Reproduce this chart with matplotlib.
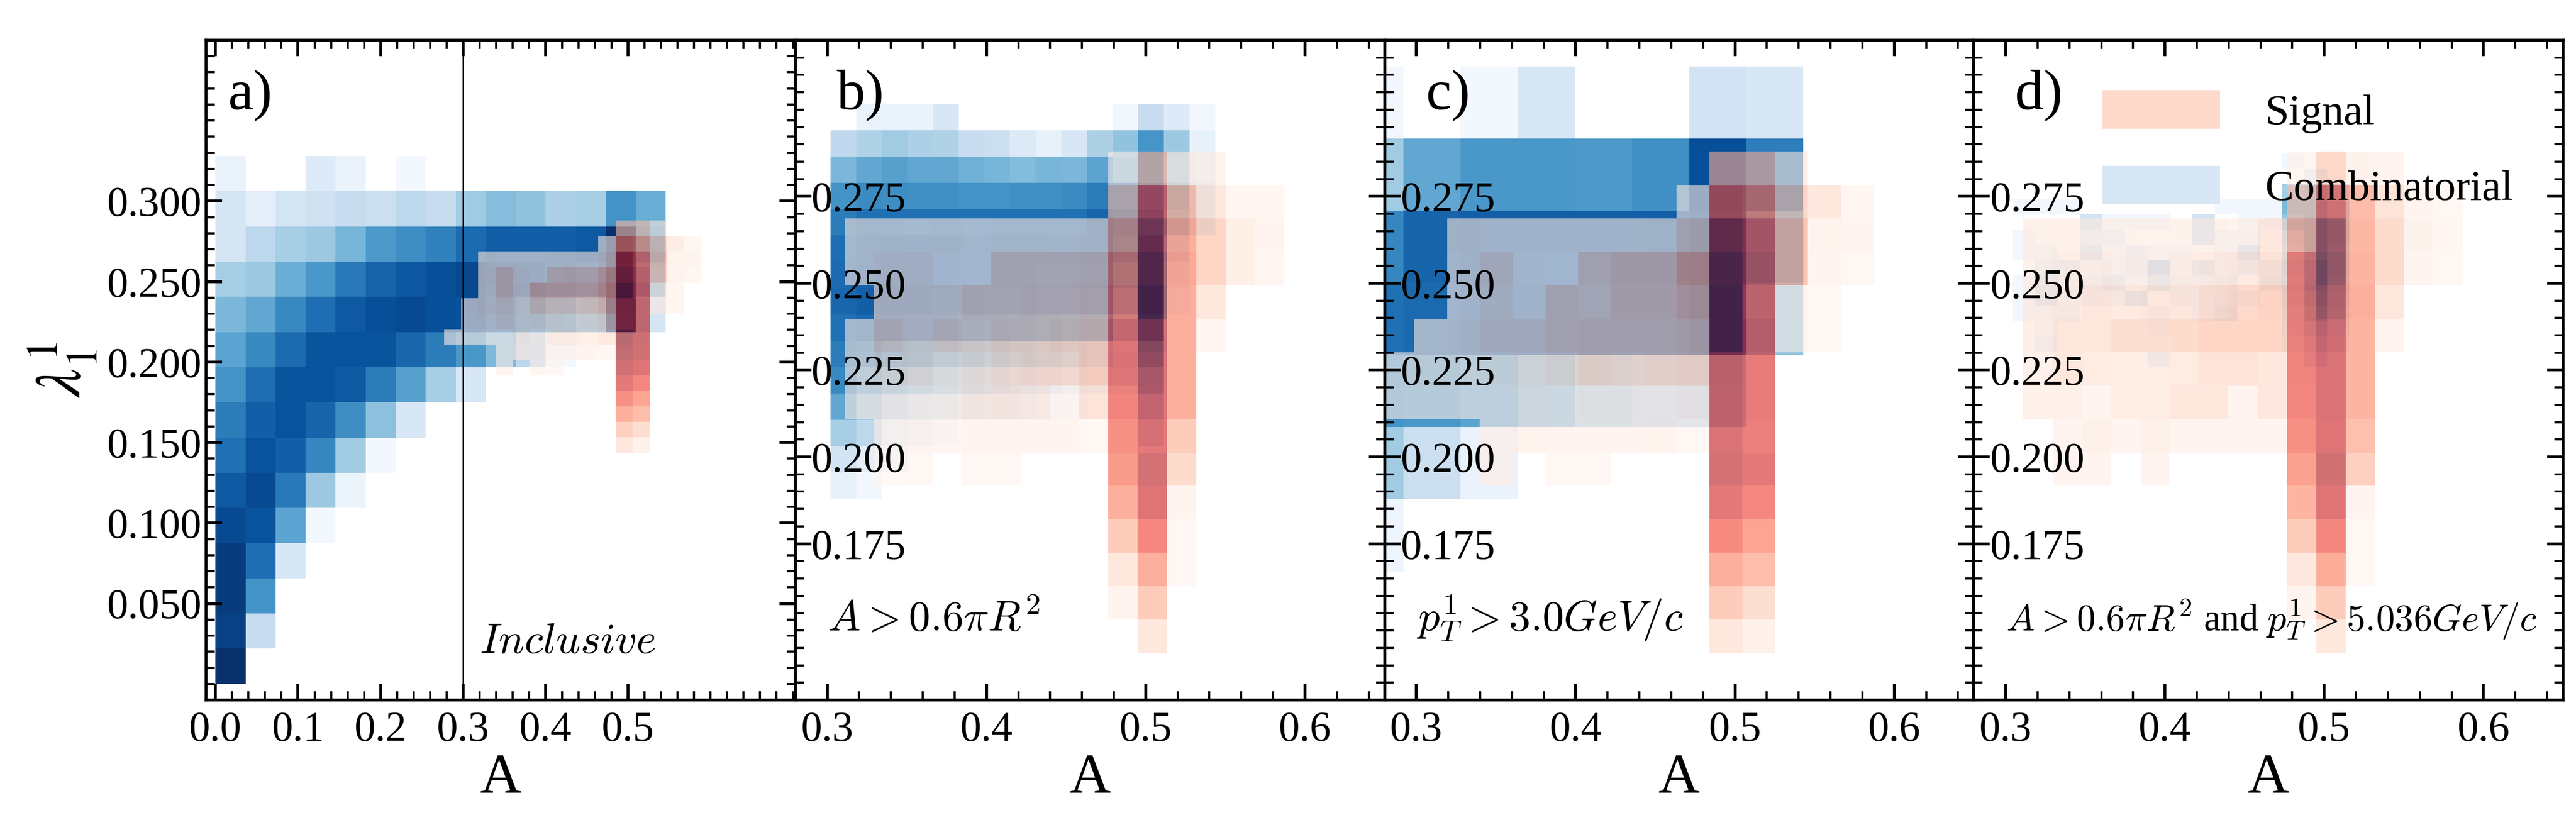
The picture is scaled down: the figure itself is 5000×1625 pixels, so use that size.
import numpy as np
import matplotlib
matplotlib.use("Agg")
import matplotlib.pyplot as plt
from matplotlib.patches import Patch
from matplotlib.ticker import MultipleLocator, FormatStrFormatter

plt.rcParams['font.family'] = 'serif'
plt.rcParams['font.serif'] = ['Liberation Serif', 'DejaVu Serif']
plt.rcParams['mathtext.fontset'] = 'cm'

# 15x15 style 2D histograms, rows written top (high lambda) to bottom
# blue = combinatorial, red = signal; values on a 0-100 colour scale

# ---- a) inclusive
A_BLUE_X = (0.0, 0.546)
A_BLUE_Y = (0.0, 0.328)
A_BLUE = [
    [7, 0, 0, 13, 7, 0, 2, 0, 0, 0, 0, 0, 0, 0, 0],
    [17, 10, 18, 20, 24, 22, 28, 24, 37, 43, 41, 33, 35, 62, 50],
    [17, 28, 35, 38, 47, 59, 64, 69, 77, 82, 82, 82, 84, 100, 55],
    [35, 38, 50, 60, 72, 80, 85, 88, 91, 88, 86, 82, 78, 98, 45],
    [46, 53, 66, 76, 84, 88, 90, 88, 87, 80, 70, 60, 50, 95, 17],
    [55, 66, 77, 86, 87, 86, 79, 71, 60, 45, 28, 2, 0, 0, 0],
    [62, 76, 86, 87, 84, 71, 56, 35, 16, 0, 0, 0, 0, 0, 0],
    [71, 82, 87, 80, 64, 42, 16, 0, 0, 0, 0, 0, 0, 0, 0],
    [75, 87, 82, 67, 37, 2, 0, 0, 0, 0, 0, 0, 0, 0, 0],
    [84, 90, 72, 38, 6, 0, 0, 0, 0, 0, 0, 0, 0, 0, 0],
    [90, 87, 55, 2, 0, 0, 0, 0, 0, 0, 0, 0, 0, 0, 0],
    [95, 76, 16, 0, 0, 0, 0, 0, 0, 0, 0, 0, 0, 0, 0],
    [95, 62, 0, 0, 0, 0, 0, 0, 0, 0, 0, 0, 0, 0, 0],
    [93, 24, 0, 0, 0, 0, 0, 0, 0, 0, 0, 0, 0, 0, 0],
    [100, 0, 0, 0, 0, 0, 0, 0, 0, 0, 0, 0, 0, 0, 0],
]
A_RED_X = (0.277, 0.589)
A_RED = [
    [0, 0, 0, 0, 0, 0, 0, 0, 0, 0, 25, 25, 8, 0, 0],
    [0, 0, 0, 0, 0, 0, 0, 0, 0, 8, 50, 45, 25, 12, 3],
    [0, 0, 10, 8, 8, 8, 10, 10, 10, 15, 80, 65, 30, 6, 6],
    [0, 0, 12, 22, 12, 8, 22, 24, 24, 32, 88, 70, 28, 6, 3],
    [0, 0, 10, 22, 14, 30, 30, 30, 30, 38, 97, 75, 10, 3, 0],
    [0, 10, 14, 18, 14, 24, 22, 22, 24, 30, 82, 85, 8, 3, 0],
    [0, 8, 10, 15, 12, 14, 14, 12, 14, 18, 80, 85, 0, 0, 0],
    [5, 5, 3, 3, 10, 5, 12, 12, 8, 14, 93, 85, 0, 0, 0],
    [0, 0, 0, 3, 6, 5, 4, 4, 5, 2, 90, 83, 0, 0, 0],
    [0, 0, 0, 4, 0, 3, 2, 0, 0, 0, 84, 75, 0, 0, 0],
    [0, 0, 0, 0, 0, 0, 0, 0, 0, 0, 72, 63, 0, 0, 0],
    [0, 0, 0, 0, 0, 0, 0, 0, 0, 0, 60, 50, 0, 0, 0],
    [0, 0, 0, 0, 0, 0, 0, 0, 0, 0, 45, 37, 0, 0, 0],
    [0, 0, 0, 0, 0, 0, 0, 0, 0, 0, 28, 20, 0, 0, 0],
    [0, 0, 0, 0, 0, 0, 0, 0, 0, 0, 15, 7, 0, 0, 0],
]
RED_Y = (0.1435, 0.2879)

# ---- b) A > 0.6 pi R^2
B_BLUE_X = (0.302, 0.5437)
B_BLUE_Y = (0.188, 0.3016)
B_BLUE = [
    [0, 7, 7, 7, 16, 0, 0, 0, 0, 0, 0, 3, 24, 13, 3],
    [27, 32, 37, 33, 32, 24, 22, 14, 8, 16, 33, 41, 61, 38, 8],
    [46, 53, 56, 53, 53, 49, 47, 44, 47, 46, 55, 45, 60, 35, 8],
    [62, 65, 64, 63, 63, 62, 62, 63, 63, 65, 71, 70, 70, 45, 15],
    [71, 75, 75, 75, 75, 75, 75, 75, 75, 75, 80, 75, 75, 40, 15],
    [76, 80, 82, 82, 82, 80, 80, 80, 80, 80, 80, 70, 85, 20, 0],
    [77, 80, 82, 82, 82, 80, 80, 80, 78, 78, 78, 60, 85, 10, 0],
    [79, 82, 82, 82, 80, 80, 78, 78, 76, 76, 75, 50, 85, 5, 0],
    [75, 78, 78, 76, 75, 72, 70, 68, 65, 62, 60, 35, 80, 0, 0],
    [71, 68, 62, 58, 52, 48, 44, 40, 36, 30, 25, 10, 60, 0, 0],
    [66, 55, 48, 42, 38, 32, 28, 22, 18, 12, 8, 5, 45, 0, 0],
    [53, 40, 30, 22, 18, 14, 10, 8, 5, 2, 0, 0, 30, 0, 0],
    [35, 28, 10, 5, 2, 0, 0, 0, 0, 0, 0, 0, 15, 0, 0],
    [19, 10, 4, 0, 0, 0, 0, 0, 0, 0, 0, 0, 0, 0, 0],
    [8, 3, 0, 0, 0, 0, 0, 0, 0, 0, 0, 0, 0, 0, 0],
]
B_RED_X = (0.311, 0.587)
B_RED = [
    [0, 0, 0, 0, 0, 0, 0, 0, 0, 5, 30, 8, 6, 0, 0],
    [0, 0, 0, 0, 0, 0, 0, 0, 0, 25, 70, 35, 15, 3, 3],
    [8, 8, 6, 8, 5, 8, 8, 7, 10, 40, 88, 45, 25, 10, 4],
    [8, 12, 12, 4, 4, 20, 20, 20, 22, 55, 95, 48, 25, 10, 3],
    [0, 14, 14, 14, 20, 20, 22, 22, 24, 60, 100, 45, 15, 0, 0],
    [8, 20, 16, 20, 18, 22, 22, 24, 27, 70, 85, 45, 3, 0, 0],
    [6, 12, 14, 10, 14, 17, 20, 20, 27, 72, 78, 45, 0, 0, 0],
    [5, 6, 5, 6, 12, 14, 12, 3, 17, 65, 75, 45, 0, 0, 0],
    [0, 3, 5, 3, 5, 4, 4, 4, 2, 60, 72, 30, 0, 0, 0],
    [0, 1, 2, 0, 2, 2, 0, 0, 0, 55, 82, 22, 0, 0, 0],
    [0, 0, 0, 0, 0, 0, 0, 0, 0, 45, 75, 5, 0, 0, 0],
    [0, 0, 0, 0, 0, 0, 0, 0, 0, 30, 63, 2, 0, 0, 0],
    [0, 0, 0, 0, 0, 0, 0, 0, 0, 15, 45, 2, 0, 0, 0],
    [0, 0, 0, 0, 0, 0, 0, 0, 0, 5, 30, 0, 0, 0, 0],
    [0, 0, 0, 0, 0, 0, 0, 0, 0, 0, 15, 0, 0, 0, 0],
]

# ---- c) pT > 3.0 GeV/c (only the visible part of the combinatorial map)
C_BLUE_X = (0.256, 0.543)
C_BLUE_Y = (0.167, 0.3124)
C_BLUE = [
    [3, 0, 2, 16, 0, 0, 19, 16],
    [37, 53, 60, 60, 59, 63, 88, 70],
    [67, 80, 82, 82, 82, 82, 85, 50],
    [75, 78, 82, 82, 80, 80, 85, 41],
    [62, 60, 55, 45, 35, 30, 30, 0],
    [37, 22, 7, 0, 0, 0, 0, 0],
    [5, 0, 0, 0, 0, 0, 0, 0],
]
C_RED_X = (0.278, 0.587)
C_RED = [
    [0, 0, 0, 0, 0, 0, 0, 0, 0, 0, 30, 30, 8, 0, 0],
    [0, 0, 0, 0, 0, 0, 0, 0, 0, 6, 60, 55, 25, 15, 3],
    [0, 0, 10, 6, 6, 6, 6, 6, 8, 20, 90, 75, 35, 6, 4],
    [0, 0, 8, 16, 5, 3, 20, 24, 24, 36, 97, 82, 35, 4, 2],
    [0, 0, 6, 13, 6, 20, 18, 24, 24, 30, 100, 70, 5, 2, 0],
    [0, 8, 10, 15, 15, 20, 22, 22, 22, 24, 100, 75, 4, 2, 0],
    [5, 6, 6, 8, 11, 15, 20, 18, 20, 22, 80, 70, 0, 0, 0],
    [4, 4, 4, 5, 6, 4, 6, 6, 5, 8, 78, 70, 0, 0, 0],
    [0, 0, 0, 5, 6, 5, 5, 5, 6, 2, 78, 68, 0, 0, 0],
    [0, 0, 0, 5, 0, 2, 2, 0, 0, 0, 82, 72, 0, 0, 0],
    [0, 0, 0, 0, 0, 0, 0, 0, 0, 0, 72, 63, 0, 0, 0],
    [0, 0, 0, 0, 0, 0, 0, 0, 0, 0, 62, 50, 0, 0, 0],
    [0, 0, 0, 0, 0, 0, 0, 0, 0, 0, 45, 37, 0, 0, 0],
    [0, 0, 0, 0, 0, 0, 0, 0, 0, 0, 30, 20, 0, 0, 0],
    [0, 0, 0, 0, 0, 0, 0, 0, 0, 0, 15, 8, 0, 0, 0],
]

# ---- d) both cuts
D_BLUE_X = (0.3044, 0.5159)
D_BLUE_Y = (0.2215, 0.2874)
D_BLUE = [
    [0, 0, 0, 0, 0, 0, 0, 0, 0, 0, 0, 0, 3, 0, 0],
    [0, 0, 0, 0, 0, 0, 0, 0, 0, 0, 0, 0, 0, 10, 0],
    [0, 0, 0, 0, 0, 0, 0, 0, 0, 0, 0, 0, 35, 40, 30],
    [3, 3, 3, 0, 0, 0, 0, 0, 0, 3, 3, 3, 45, 45, 35],
    [0, 0, 0, 19, 3, 3, 3, 0, 19, 0, 3, 3, 40, 45, 35],
    [3, 0, 0, 10, 8, 0, 0, 0, 19, 5, 5, 0, 30, 45, 35],
    [3, 5, 0, 18, 3, 8, 3, 3, 0, 3, 22, 0, 25, 45, 30],
    [0, 8, 10, 3, 5, 8, 30, 3, 15, 3, 10, 10, 30, 50, 30],
    [3, 18, 5, 6, 15, 2, 18, 5, 4, 8, 0, 12, 25, 50, 25],
    [3, 18, 4, 4, 4, 20, 0, 3, 5, 10, 5, 0, 20, 45, 20],
    [3, 3, 6, 0, 0, 0, 4, 0, 4, 15, 0, 0, 15, 40, 15],
    [0, 3, 0, 0, 0, 0, 3, 0, 0, 0, 0, 0, 10, 30, 10],
    [0, 8, 0, 0, 0, 0, 0, 0, 0, 0, 0, 0, 5, 20, 5],
    [0, 0, 0, 0, 0, 0, 10, 0, 0, 0, 0, 0, 0, 10, 0],
    [0, 0, 0, 0, 0, 0, 0, 0, 0, 0, 0, 0, 0, 0, 0],
]
D_RED_X = (0.311, 0.587)
D_RED = [
    [0, 0, 0, 0, 0, 0, 0, 0, 0, 3, 24, 7, 5, 0, 0],
    [0, 0, 0, 0, 0, 0, 0, 0, 0, 25, 65, 38, 17, 4, 2],
    [8, 8, 7, 7, 6, 7, 8, 6, 15, 38, 92, 40, 22, 7, 3],
    [8, 11, 11, 8, 8, 11, 13, 14, 18, 62, 97, 42, 22, 5, 2],
    [11, 13, 16, 14, 16, 16, 20, 23, 26, 64, 90, 45, 16, 0, 0],
    [10, 16, 16, 20, 20, 22, 25, 25, 25, 65, 80, 42, 4, 0, 0],
    [8, 15, 13, 11, 11, 13, 17, 17, 15, 66, 78, 42, 0, 0, 0],
    [8, 8, 4, 11, 11, 15, 15, 4, 15, 64, 78, 42, 0, 0, 0],
    [0, 4, 8, 4, 8, 5, 5, 4, 4, 60, 75, 36, 0, 0, 0],
    [0, 4, 4, 0, 4, 0, 0, 0, 0, 52, 83, 28, 0, 0, 0],
    [0, 0, 0, 0, 0, 0, 0, 0, 0, 42, 75, 5, 0, 0, 0],
    [0, 0, 0, 0, 0, 0, 0, 0, 0, 30, 64, 2, 0, 0, 0],
    [0, 0, 0, 0, 0, 0, 0, 0, 0, 15, 46, 2, 0, 0, 0],
    [0, 0, 0, 0, 0, 0, 0, 0, 0, 5, 30, 0, 0, 0, 0],
    [0, 0, 0, 0, 0, 0, 0, 0, 0, 0, 15, 0, 0, 0, 0],
]

PANEL_TAGS = ['a)', 'b)', 'c)', 'd)']
CUT_LABELS = [r'$Inclusive$', r'$A > 0.6\pi R^2$', r'$p_T^1 > 3.0GeV/c$',
              r'$A > 0.6\pi R^2$ and $p_T^1 > 5.036GeV/c$']
LEGEND_LABELS = ['Signal', 'Combinatorial']

RED_ALPHA = 0.6


def draw_hist(ax, counts, xr, yr, cmap, alpha=1.0):
    c = np.flipud(np.array(counts, dtype=float))
    xe = np.linspace(xr[0], xr[1], c.shape[1] + 1)
    ye = np.linspace(yr[0], yr[1], c.shape[0] + 1)
    ax.pcolormesh(xe, ye, np.ma.masked_equal(c, 0), cmap=cmap, vmin=0, vmax=100,
                  alpha=alpha, shading='flat', linewidth=0, rasterized=True)


def style_axis(ax):
    ax.tick_params(which='both', direction='in', top=True, right=True)
    ax.tick_params(which='major', length=9, width=1.6, labelsize=23.5)
    ax.tick_params(which='minor', length=5, width=1.2)
    ax.tick_params(axis='x', pad=6)
    for s in ax.spines.values():
        s.set_linewidth(1.6)


fig = plt.figure(figsize=(20, 6.5), dpi=250)
axes = fig.subplots(1, 4)
fig.subplots_adjust(left=0.08, right=0.995, top=0.952, bottom=0.1637, wspace=0)

panels = [
    (A_BLUE, A_BLUE_X, A_BLUE_Y, A_RED, A_RED_X),
    (B_BLUE, B_BLUE_X, B_BLUE_Y, B_RED, B_RED_X),
    (C_BLUE, C_BLUE_X, C_BLUE_Y, C_RED, C_RED_X),
    (D_BLUE, D_BLUE_X, D_BLUE_Y, D_RED, D_RED_X),
]

for i, ax in enumerate(axes):
    blue, bx, by, red, rx = panels[i]
    draw_hist(ax, blue, bx, by, 'Blues')
    draw_hist(ax, red, rx, RED_Y, 'Reds', alpha=RED_ALPHA)
    style_axis(ax)
    ax.set_xlabel('A', fontsize=32, labelpad=2)
    ax.xaxis.set_major_formatter(FormatStrFormatter('%.1f'))
    ax.yaxis.set_major_formatter(FormatStrFormatter('%.3f'))
    ax.xaxis.set_minor_locator(MultipleLocator(0.02))
    ax.text(0.07 if i else 0.037, 0.895, PANEL_TAGS[i], transform=ax.transAxes,
            fontsize=32)

# a) inclusive
ax = axes[0]
ax.set_xlim(-0.0115, 0.703)
ax.set_ylim(-0.01, 0.40)
ax.set_xticks([0.0, 0.1, 0.2, 0.3, 0.4, 0.5])
ax.set_yticks([0.05, 0.10, 0.15, 0.20, 0.25, 0.30])
ax.yaxis.set_minor_locator(MultipleLocator(0.01))
ax.tick_params(axis='y', pad=2.3)
ax.axvline(0.3, color='k', lw=0.7)
ax.set_ylabel(r'$\lambda_1^1$', fontsize=36, labelpad=5, math_fontfamily='stix')
ax.text(0.464, 0.071, CUT_LABELS[0], transform=ax.transAxes, fontsize=24)

for i in (1, 2, 3):
    ax = axes[i]
    ax.set_xlim(0.28, 0.65)
    ax.set_ylim(0.13, 0.32)
    ax.set_xticks([0.3, 0.4, 0.5, 0.6])
    ax.set_yticks([0.175, 0.200, 0.225, 0.250, 0.275])
    ax.yaxis.set_minor_locator(MultipleLocator(0.005))
    ax.tick_params(axis='y', pad=-62)
    ax.text(0.055, 0.105, CUT_LABELS[i], transform=ax.transAxes,
            fontsize=24 if i < 3 else 21)

handles = [Patch(facecolor='#fdd9cb', edgecolor='none'),
           Patch(facecolor='#d8e7f5', edgecolor='none')]
axes[3].legend(handles, LEGEND_LABELS, loc='upper left', bbox_to_anchor=(0.218, 0.924),
               frameon=False, fontsize=24, borderpad=0, borderaxespad=0,
               handlelength=2.74, handleheight=1.0, labelspacing=0.75,
               handletextpad=1.05)

fig.savefig('out.png', dpi=250)
